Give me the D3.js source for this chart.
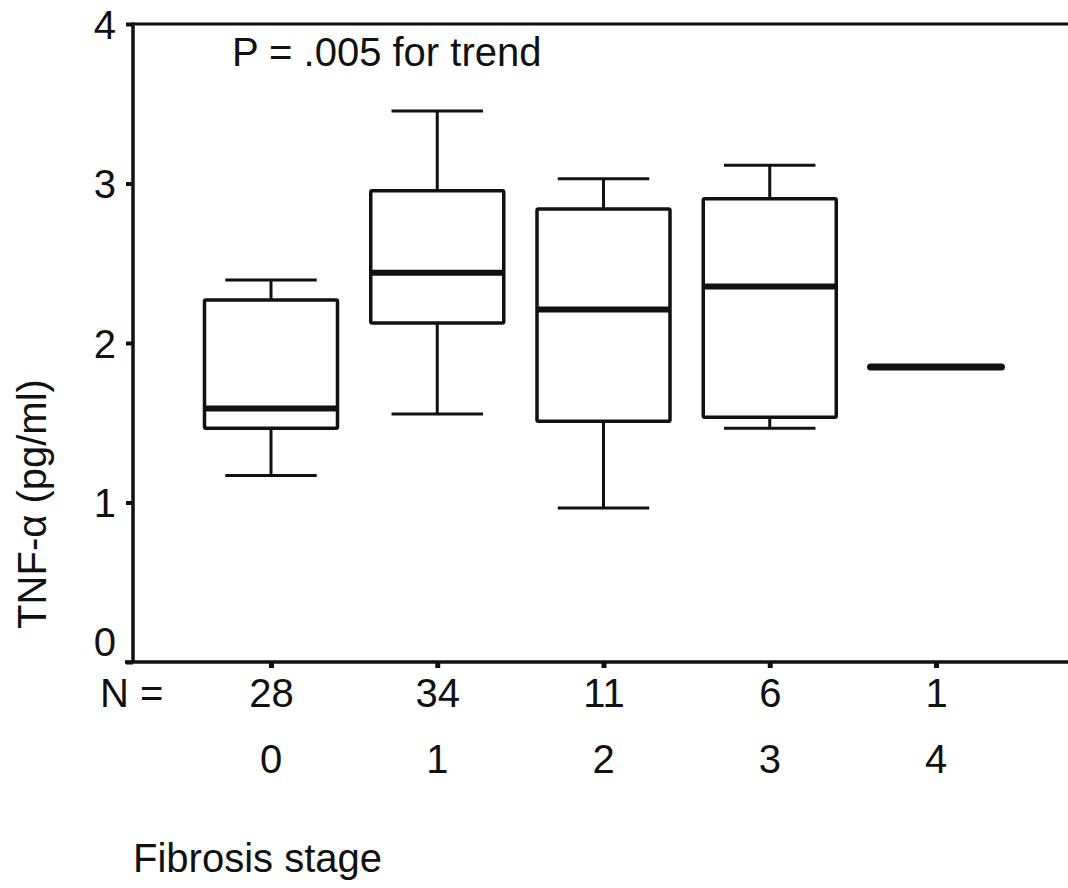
<!DOCTYPE html>
<html>
<head>
<meta charset="utf-8">
<script src="https://cdn.jsdelivr.net/npm/d3@7"></script>
<style>
  body { margin: 0; background: #fff; }
  svg text { font-family: "Liberation Sans", Arial, Helvetica, sans-serif; fill: #111; }
</style>
</head>
<body>
<svg id="chart" width="1068" height="888"></svg>
<script>
// values (TNF-alpha by fibrosis stage)
var stages = ["0", "1", "2", "3", "4"];
var nCounts = [28, 34, 11, 6, 1];
var whiskerLow = [1.17, 1.555, 0.965, 1.465, 1.85];
var q1 = [1.465, 2.125, 1.51, 1.535, 1.85];
var median = [1.59, 2.44, 2.21, 2.355, 1.85];
var q3 = [2.27, 2.955, 2.84, 2.905, 1.85];
var whiskerHigh = [2.395, 3.455, 3.03, 3.115, 1.85];
var yTicks = [0, 1, 2, 3, 4];

var svg = d3.select("#chart");
var plotLeft = 133, plotTop = 24, plotBottom = 662, plotRight = 1068;

var x = d3.scalePoint().domain(stages).range([271, 936]);
var y = d3.scaleLinear().domain([0, 4]).range([plotBottom, plotTop]);

var boxW = x.step() * 0.8;
var capW = x.step() * 0.55;

var boxes = stages.map(function(s, i){
    return {stage: s, lo: whiskerLow[i], q1: q1[i], med: median[i], q3: q3[i], hi: whiskerHigh[i]};
});

// frame lines
svg.append("line").attr("x1", plotLeft).attr("x2", plotRight).attr("y1", plotTop).attr("y2", plotTop)
    .attr("stroke", "#111").attr("stroke-width", 3);
svg.append("line").attr("x1", plotLeft).attr("x2", plotLeft).attr("y1", plotTop - 1.5).attr("y2", plotBottom)
    .attr("stroke", "#111").attr("stroke-width", 3.5);
svg.append("line").attr("x1", plotLeft - 8).attr("x2", plotRight).attr("y1", plotBottom).attr("y2", plotBottom)
    .attr("stroke", "#111").attr("stroke-width", 3.5);

// y axis
var yAxis = svg.append("g").attr("transform", "translate(" + plotLeft + ",0)")
    .call(d3.axisLeft(y).tickValues(yTicks).tickFormat(d3.format("d"))
        .tickSize(7).tickSizeOuter(0).tickPadding(10));
yAxis.select(".domain").remove();
yAxis.selectAll(".tick line").attr("stroke", "#111").attr("stroke-width", 4);
yAxis.selectAll(".tick text").attr("font-size", 40).attr("fill", "#111")
    .attr("dy", function(d){ return d === 0 ? "-0.17em" : "0.35em"; });

// x axis with N counts
var xAxis = svg.append("g").attr("transform", "translate(0," + plotBottom + ")")
    .call(d3.axisBottom(x).tickSize(6).tickSizeOuter(0).tickPadding(11)
        .tickFormat(function(d, i){ return nCounts[i]; }));
xAxis.select(".domain").remove();
xAxis.selectAll(".tick line").attr("stroke", "#111").attr("stroke-width", 5);
xAxis.selectAll(".tick text").attr("font-size", 40).attr("fill", "#111");

svg.append("text").attr("x", 100).attr("y", 707).attr("font-size", 40).text("N =");

svg.selectAll(".stage").data(stages).enter().append("text")
    .attr("class", "stage")
    .attr("x", function(d){ return x(d); })
    .attr("y", 773)
    .attr("text-anchor", "middle")
    .attr("font-size", 40)
    .text(function(d){ return d; });

svg.append("text").attr("x", 133).attr("y", 872).attr("font-size", 40).text("Fibrosis stage");

svg.append("text")
    .attr("transform", "translate(46,504) rotate(-90)")
    .attr("text-anchor", "middle")
    .attr("font-size", 40)
    .text("TNF-\u03b1 (pg/ml)");

svg.append("text").attr("x", 232).attr("y", 66).attr("font-size", 40).text("P = .005 for trend");

// boxes
var g = svg.selectAll(".box").data(boxes).enter().append("g").attr("class", "box");

var spread = function(d){ return d.hi > d.lo; };

g.filter(spread).append("line")
    .attr("x1", function(d){ return x(d.stage); }).attr("x2", function(d){ return x(d.stage); })
    .attr("y1", function(d){ return y(d.hi); }).attr("y2", function(d){ return y(d.q3); })
    .attr("stroke", "#111").attr("stroke-width", 3);
g.filter(spread).append("line")
    .attr("x1", function(d){ return x(d.stage); }).attr("x2", function(d){ return x(d.stage); })
    .attr("y1", function(d){ return y(d.q1); }).attr("y2", function(d){ return y(d.lo); })
    .attr("stroke", "#111").attr("stroke-width", 3);
g.filter(spread).append("line")
    .attr("x1", function(d){ return x(d.stage) - capW / 2; }).attr("x2", function(d){ return x(d.stage) + capW / 2; })
    .attr("y1", function(d){ return y(d.hi); }).attr("y2", function(d){ return y(d.hi); })
    .attr("stroke", "#111").attr("stroke-width", 3);
g.filter(spread).append("line")
    .attr("x1", function(d){ return x(d.stage) - capW / 2; }).attr("x2", function(d){ return x(d.stage) + capW / 2; })
    .attr("y1", function(d){ return y(d.lo); }).attr("y2", function(d){ return y(d.lo); })
    .attr("stroke", "#111").attr("stroke-width", 3);

g.filter(function(d){ return d.q3 > d.q1; }).append("rect")
    .attr("x", function(d){ return x(d.stage) - boxW / 2; })
    .attr("y", function(d){ return y(d.q3); })
    .attr("width", boxW)
    .attr("height", function(d){ return y(d.q1) - y(d.q3); })
    .attr("fill", "none").attr("stroke", "#111").attr("stroke-width", 3.5)
    .attr("rx", 1.5);

g.append("line")
    .attr("x1", function(d){ return x(d.stage) - boxW / 2 + 1; }).attr("x2", function(d){ return x(d.stage) + boxW / 2 - 1; })
    .attr("y1", function(d){ return y(d.med); }).attr("y2", function(d){ return y(d.med); })
    .attr("stroke", "#111")
    .attr("stroke-width", function(d){ return spread(d) ? 6 : 7; })
    .attr("stroke-linecap", function(d){ return spread(d) ? "butt" : "round"; });
</script>
</body>
</html>
